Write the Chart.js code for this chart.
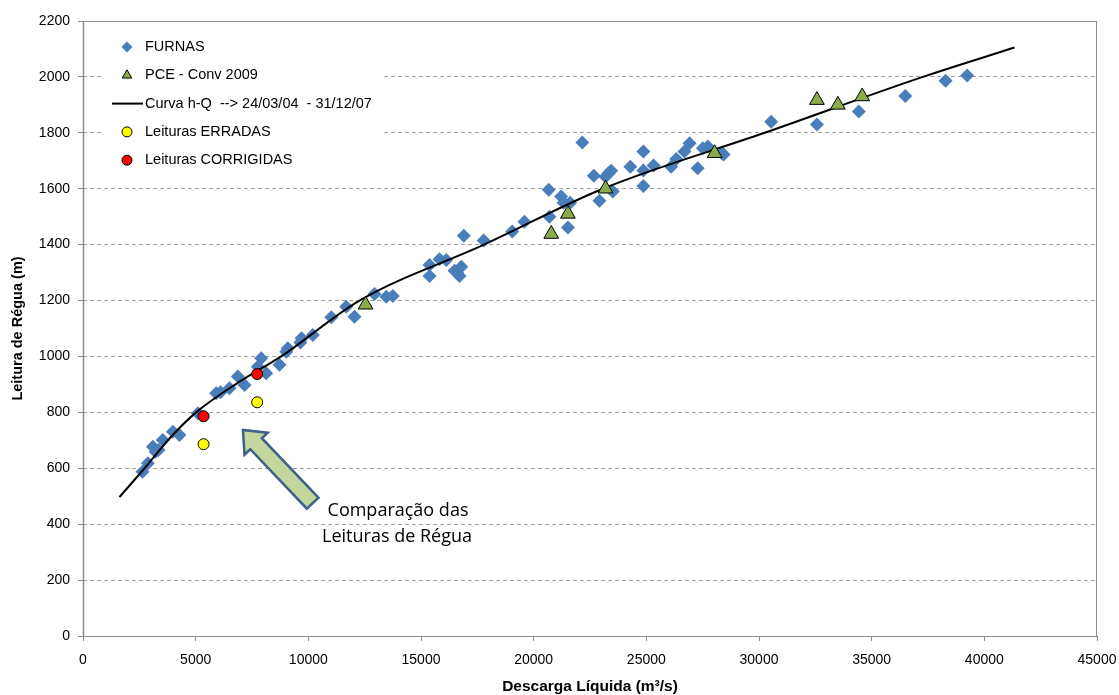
<!DOCTYPE html>
<html>
<head>
<meta charset="utf-8">
<script src="https://cdn.jsdelivr.net/npm/chart.js@4/dist/chart.umd.min.js"></script>
<style>
  html, body { margin: 0; padding: 0; background: #fff; }
  #wrap { width: 1119px; height: 695px; }
</style>
</head>
<body>
<div id="wrap"><canvas id="chart" width="1119" height="695"></canvas></div>
<script>
// FURNAS gaugings (discharge m3/s, gauge reading)
const furnasQ = [2640, 2880, 3100, 3220, 3350, 3540, 3990, 4280, 5100, 5910, 6100, 6500, 6870, 7170, 7760, 7910, 8130, 8720, 9020, 9090,
  9650, 9700, 10200, 11020, 11680, 12050, 12940, 13460, 13750, 15380, 15380, 15820, 16120, 16490, 16790, 16710, 16600, 16900, 17780, 19050,
  19590, 20670, 20700, 21220, 21330, 21620, 21520, 22160, 22670, 22920, 23190, 23320, 23440, 23510, 24290, 24870, 24870, 24870, 25320, 26100,
  26330, 26690, 26920, 27280, 27510, 27730, 28350, 28430, 30540, 32570, 34430, 36490, 38280, 39240];
const furnasH = [588, 618, 677, 659, 665, 701, 731, 719, 797, 868, 872, 886, 928, 898, 963, 994, 940, 970, 1017, 1029,
  1050, 1065, 1077, 1140, 1178, 1142, 1223, 1214, 1216, 1327, 1288, 1348, 1345, 1307, 1321, 1288, 1300, 1432, 1415, 1447,
  1482, 1596, 1500, 1572, 1550, 1550, 1461, 1765, 1646, 1557, 1643, 1655, 1664, 1590, 1679, 1733, 1665, 1610, 1683, 1679,
  1706, 1733, 1763, 1673, 1745, 1751, 1727, 1722, 1840, 1830, 1876, 1932, 1986, 2005];

// PCE - Conv 2009
const pceQ = [12540, 20780, 21520, 23190, 28030, 32570, 33500, 34580];
const pceH = [1185, 1438, 1510, 1600, 1727, 1917, 1900, 1930];

// rating curve 24/03/04 - 31/12/07
const curveQ = [1620, 2730, 3900, 5020, 6800, 8790, 12270, 17800, 23070, 30250, 37270, 41340];
const curveH = [497, 600, 712, 800, 902, 1000, 1200, 1400, 1600, 1800, 2000, 2105];

// wrong and corrected readings
const erradasQ = [5350, 7730];
const erradasH = [686, 836];
const corrigidasQ = [5350, 7730];
const corrigidasH = [786, 937];

// axes
const xTicks = [0, 5000, 10000, 15000, 20000, 25000, 30000, 35000, 40000, 45000];
const yTicks = [0, 200, 400, 600, 800, 1000, 1200, 1400, 1600, 1800, 2000, 2200];

// annotation arrow (data coords: tail -> tip)
const arrowFrom = { x: 10190, y: 475 };
const arrowTo = { x: 7100, y: 737 };
const noteLines = ['Comparação das', 'Leituras de Régua'];

const toXY = (qs, hs) => qs.map((q, i) => ({ x: q, y: hs[i] }));

const BLUE = '#4a7ebb';
const GREEN = '#8aac4b';
const GRID = '#a0a0a0';
const AXIS = '#8c8c8c';

const legendItems = [
  { label: 'FURNAS', kind: 'point', style: 'rectRot', fill: BLUE, stroke: BLUE, r: 5.5, bw: 0 },
  { label: 'PCE - Conv 2009', kind: 'point', style: 'triangle', fill: GREEN, stroke: '#000', r: 5.5, bw: 1 },
  { label: 'Curva h-Q  --> 24/03/04  - 31/12/07', kind: 'line' },
  { label: 'Leituras ERRADAS', kind: 'point', style: 'circle', fill: '#ffff00', stroke: '#000', r: 5, bw: 1 },
  { label: 'Leituras CORRIGIDAS', kind: 'point', style: 'circle', fill: '#ff0000', stroke: '#000', r: 5, bw: 1 },
];

// frame, legend box and the arrow note
const decorations = {
  id: 'decorations',
  afterDraw(chart) {
    const { ctx, chartArea: a, scales } = chart;
    ctx.save();

    // frame
    ctx.strokeStyle = AXIS;
    ctx.lineWidth = 1;
    ctx.strokeRect(a.left + 0.5, a.top + 0.5, a.right - a.left - 1, a.bottom - a.top);
    ctx.lineWidth = 1.5;
    ctx.beginPath();
    ctx.moveTo(a.left + 0.5, a.top);
    ctx.lineTo(a.left + 0.5, a.bottom);
    ctx.stroke();

    // legend
    ctx.fillStyle = '#fff';
    ctx.fillRect(104, 28, 277, 150);
    ctx.font = '14.5px "Liberation Sans", Arial, sans-serif';
    ctx.textBaseline = 'middle';
    legendItems.forEach((it, i) => {
      const y = 47 + i * 28.3;
      if (it.kind === 'line') {
        ctx.strokeStyle = '#000';
        ctx.lineWidth = 2;
        ctx.beginPath();
        ctx.moveTo(112, y);
        ctx.lineTo(143, y);
        ctx.stroke();
      } else {
        ctx.fillStyle = it.fill;
        ctx.strokeStyle = it.stroke;
        ctx.lineWidth = it.bw;
        Chart.helpers.drawPoint(ctx, { pointStyle: it.style, radius: it.r, borderWidth: it.bw, rotation: 0 }, 127, y);
      }
      ctx.fillStyle = '#000';
      ctx.fillText(it.label, 145, y);
    });

    // arrow
    const x1 = scales.x.getPixelForValue(arrowFrom.x), y1 = scales.y.getPixelForValue(arrowFrom.y);
    const x2 = scales.x.getPixelForValue(arrowTo.x), y2 = scales.y.getPixelForValue(arrowTo.y);
    const len = Math.hypot(x2 - x1, y2 - y1);
    const ux = (x2 - x1) / len, uy = (y2 - y1) / len;
    const nx = -uy, ny = ux;
    const shaft = 8, head = 16, headLen = 19;
    const bx = x2 - ux * headLen, by = y2 - uy * headLen;
    ctx.beginPath();
    ctx.moveTo(x1 + nx * shaft, y1 + ny * shaft);
    ctx.lineTo(bx + nx * shaft, by + ny * shaft);
    ctx.lineTo(bx + nx * head, by + ny * head);
    ctx.lineTo(x2, y2);
    ctx.lineTo(bx - nx * head, by - ny * head);
    ctx.lineTo(bx - nx * shaft, by - ny * shaft);
    ctx.lineTo(x1 - nx * shaft, y1 - ny * shaft);
    ctx.closePath();
    ctx.fillStyle = '#c3d69b';
    ctx.fill();
    ctx.strokeStyle = '#3f5f8c';
    ctx.lineWidth = 2.5;
    ctx.lineJoin = 'miter';
    ctx.stroke();

    // note text
    ctx.fillStyle = '#000';
    ctx.font = '18px "Open Sans", "Noto Sans", sans-serif';
    ctx.textAlign = 'center';
    ctx.fillText(noteLines[0], 398, 511);
    ctx.fillText(noteLines[1], 397, 537);

    ctx.restore();
  }
};

new Chart(document.getElementById('chart'), {
  type: 'scatter',
  data: {
    datasets: [
      {
        label: 'Leituras CORRIGIDAS',
        data: toXY(corrigidasQ, corrigidasH),
        pointStyle: 'circle',
        pointRadius: 5.5,
        backgroundColor: '#ff0000',
        borderColor: '#000',
        borderWidth: 1,
      },
      {
        label: 'Leituras ERRADAS',
        data: toXY(erradasQ, erradasH),
        pointStyle: 'circle',
        pointRadius: 5.5,
        backgroundColor: '#ffff00',
        borderColor: '#000',
        borderWidth: 1,
      },
      {
        label: 'PCE - Conv 2009',
        data: toXY(pceQ, pceH),
        pointStyle: 'triangle',
        pointRadius: 8.5,
        backgroundColor: GREEN,
        borderColor: '#000',
        borderWidth: 1,
      },
      {
        label: 'Curva h-Q  --> 24/03/04  - 31/12/07',
        data: toXY(curveQ, curveH),
        showLine: true,
        cubicInterpolationMode: 'monotone',
        borderColor: '#000',
        borderWidth: 2,
        pointRadius: 0,
        fill: false,
      },
      {
        label: 'FURNAS',
        data: toXY(furnasQ, furnasH),
        pointStyle: 'rectRot',
        pointRadius: 7,
        backgroundColor: BLUE,
        borderColor: BLUE,
        borderWidth: 0,
      },
    ],
  },
  options: {
    responsive: false,
    animation: false,
    events: [],
    layout: { padding: { top: 21, right: 22, left: 0, bottom: 0 } },
    plugins: {
      legend: { display: false },
      tooltip: { enabled: false },
    },
    scales: {
      x: {
        type: 'linear',
        min: 0,
        max: 45000,
        afterFit: s => { s.height = 59; s.paddingLeft = 0; s.paddingRight = 0; },
        afterBuildTicks: s => { s.ticks = xTicks.map(v => ({ value: v })); },
        border: { display: false },
        grid: { drawOnChartArea: false, drawTicks: true, tickLength: 5, tickColor: AXIS },
        ticks: {
          color: '#000',
          padding: 11,
          maxRotation: 0,
          font: { family: '"Liberation Sans", Arial', size: 14 },
          callback: v => String(v),
        },
        title: {
          display: true,
          text: 'Descarga Líquida (m³/s)',
          color: '#000',
          padding: { top: 0, bottom: -1 },
          font: { family: '"Liberation Sans", Arial', size: 15.5, weight: 'bold' },
        },
      },
      y: {
        type: 'linear',
        min: 0,
        max: 2200,
        afterFit: s => { s.width = 83; s.paddingTop = 0; s.paddingBottom = 0; },
        afterBuildTicks: s => { s.ticks = yTicks.map(v => ({ value: v })); },
        border: { display: false, dash: [4, 3] },
        grid: { color: GRID, tickBorderDash: [1, 0], tickLength: 5, tickColor: AXIS },
        ticks: {
          color: '#000',
          padding: 8,
          font: { family: '"Liberation Sans", Arial', size: 14 },
          callback: v => String(v),
        },
        title: {
          display: true,
          text: 'Leitura de Régua (m)',
          color: '#000',
          padding: { top: 9, bottom: 0 },
          font: { family: '"Liberation Sans", Arial', size: 14.5, weight: 'bold' },
        },
      },
    },
  },
  plugins: [decorations],
});
</script>
</body>
</html>
